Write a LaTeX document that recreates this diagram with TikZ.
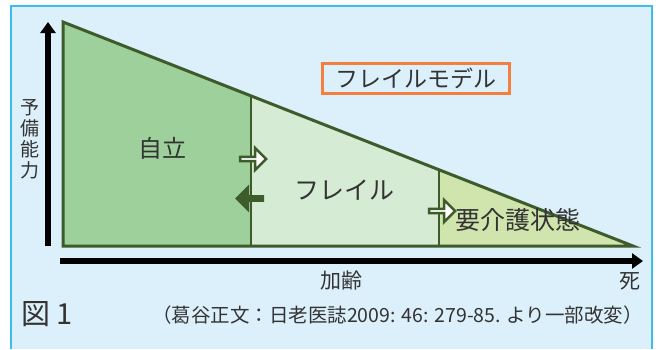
\documentclass[tikz,border=0pt]{standalone}
\usepackage{fontspec}
\setmainfont{Noto Sans CJK JP}
\usetikzlibrary{arrows.meta,shapes.arrows}
\definecolor{bgblue}{HTML}{DCF0FB}
\definecolor{frameblue}{HTML}{3DBDEB}
\definecolor{jiritsu}{HTML}{9DD09A}
\definecolor{frail}{HTML}{D6EBD3}
\definecolor{kaigo}{HTML}{D0E4AD}
\definecolor{edge}{HTML}{3E5B2B}
\definecolor{model}{HTML}{F47E3E}
\definecolor{txt}{HTML}{333333}

\begin{document}
\begin{tikzpicture}[x=1pt,y=-1pt,
    axis/.style={line width=6pt,-{Triangle[length=11pt,width=15pt]}},
    lbl/.style={text=txt,inner sep=0pt},
    stagearrow/.style={single arrow,draw=edge,line width=2.5pt,inner sep=0pt,
      minimum height=26pt,minimum width=22pt,single arrow head extend=5pt}]
    \useasboundingbox (0,0) rectangle (659,349);
    % panel
    \fill[bgblue] (11,6) rectangle (652,349);
    \draw[frameblue,line width=1.5pt] (11,349) -- (11,6) -- (652,6) -- (652,349);
    % corners of the model
    \coordinate (top) at (63,22);
    \coordinate (f1) at (251,96);
    \coordinate (f2) at (439,170);
    \coordinate (end) at (633,246);
    \coordinate (b1) at (251,246);
    \coordinate (b2) at (439,246);
    \coordinate (b0) at (63,246);
    \fill[jiritsu] (top) -- (f1) -- (b1) -- (b0) -- cycle;
    \fill[frail] (f1) -- (f2) -- (b2) -- (b1) -- cycle;
    \fill[kaigo] (f2) -- (end) -- (b2) -- cycle;
    \draw[edge,line width=2.5pt] (f1) -- (b1);
    \draw[edge,line width=2.5pt] (f2) -- (b2);
    \draw[edge,line width=3pt,line join=miter] (top) -- (end) -- (b0) -- cycle;
    % axes
    \coordinate (yfoot) at (48,246);
    \coordinate (yhead) at (48,22);
    \coordinate (xfoot) at (60,261);
    \coordinate (xhead) at (643,261);
    \draw[axis] (yfoot) -- (yhead);
    \draw[axis] (xfoot) -- (xhead);
    % labels
    \node[lbl,font=\fontsize{19}{21}\selectfont,align=center] (reserve) at (30,139) {予\\備\\能\\力};
    \node[lbl,font=\fontsize{24}{24}\selectfont] (indep) at (162,148) {自立};
    \node[lbl,font=\fontsize{25}{25}\selectfont] (frailty) at (344,190) {フレイル};
    \node[lbl,font=\fontsize{25}{25}\selectfont] (care) at (518,220) {要介護状態};
    \node[lbl,font=\fontsize{23}{23}\selectfont,draw=model,line width=3pt,
      minimum width=187pt,minimum height=30pt] (title) at (416,78.5) {フレイルモデル};
    \node[lbl,font=\fontsize{21}{21}\selectfont] (aging) at (341,281) {加齢};
    \node[lbl,font=\fontsize{21}{21}\selectfont] (death) at (630,281) {死};
    \node[lbl,font=\fontsize{29}{29}\selectfont,anchor=west] (fig) at (21,314) {図 1};
    \node[lbl,font=\fontsize{19.5}{19.5}\selectfont,anchor=east] (cite) at (643,315)
      {（葛谷正文：日老医誌2009: 46: 279-85. より一部改変）};
    % transitions
    \node[stagearrow,fill=white] (go1) at (252,159) {};
    \node[stagearrow,fill=edge,shape border rotate=180] (back1) at (251,198.5) {};
    \node[stagearrow,fill=white] (go2) at (441,211) {};
\end{tikzpicture}
\end{document}
